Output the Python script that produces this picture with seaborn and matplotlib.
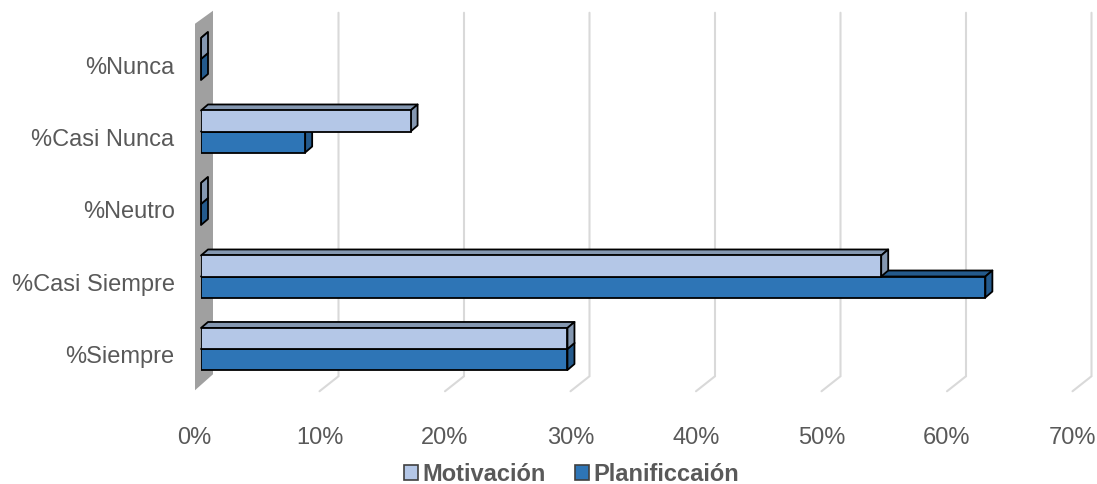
import matplotlib
matplotlib.use("Agg")
import matplotlib.pyplot as plt
from matplotlib.patches import Polygon, Patch
from matplotlib.transforms import ScaledTranslation, IdentityTransform
import pandas as pd
import seaborn as sns

# Survey results (percent of respondents)
categorias = ["%Nunca", "%Casi Nunca", "%Neutro", "%Casi Siempre", "%Siempre"]
series = ["Motivación", "Planificcaión"]
motivacion = [0.0, 16.7, 0.0, 54.2, 29.2]
planificacion = [0.0, 8.3, 0.0, 62.5, 29.2]
x_ticks = [0, 10, 20, 30, 40, 50, 60, 70]
x_tick_labels = [f"{t}%" for t in x_ticks]

front_colors = ["#b4c7e7", "#2e75b6"]
shade_colors = ["#8497b0", "#245a8c"]
text_color = "#595959"

df = pd.DataFrame({
    "categoria": categorias * 2,
    "serie": [series[0]] * len(categorias) + [series[1]] * len(categorias),
    "valor": motivacion + planificacion,
})

sns.set_style("white")
plt.rcParams["font.family"] = ["Liberation Sans", "DejaVu Sans"]

W, H, DPI = 1097, 485, 100
fig = plt.figure(figsize=(W / DPI, H / DPI), dpi=DPI)
ax = fig.add_axes([201 / W, (H - 386.25) / H, 878.5 / W, 362.5 / H])

sns.barplot(data=df, y="categoria", x="valor", hue="serie", order=categorias,
            hue_order=series, palette=front_colors, orient="h", width=0.58,
            edgecolor="black", linewidth=1.3, saturation=1, legend=False, ax=ax)

ax.set_xlim(0, 70)
ax.set_ylim(len(categorias) - 0.5, -0.5)
for s in ax.spines.values():
    s.set_visible(False)
ax.set_xlabel("")
ax.set_ylabel("")
ax.set_xticks(x_ticks)
ax.set_xticklabels(x_tick_labels)
ax.tick_params(axis="both", length=0, labelsize=17, labelcolor=text_color)
ax.tick_params(axis="x", pad=29)
ax.tick_params(axis="y", pad=19)
ax.grid(False)

# shift labels onto the front edge of the 3-D floor / wall
for lab in ax.get_xticklabels():
    lab.set_transform(lab.get_transform() + ScaledTranslation(-7 / DPI, 0, fig.dpi_scale_trans))
for lab in ax.get_yticklabels():
    lab.set_transform(lab.get_transform() + ScaledTranslation(0, -5 / DPI, fig.dpi_scale_trans))

fig.canvas.draw()
ident = IdentityTransform()
bb = ax.get_window_extent()
top, bottom = bb.y1, bb.y0


def xpix(v):
    return ax.transData.transform((v, 0))[0]


# side wall at 0%
x0 = xpix(0)
wall = Polygon([(x0 - 6, top - 1), (x0 + 12, top + 12), (x0 + 12, bottom + 11),
                (x0 - 6, bottom - 5)], closed=True, facecolor="#a0a0a0",
               edgecolor="none", transform=ident, zorder=0.4, clip_on=False)
ax.add_artist(wall)

# back-wall gridlines with their floor segments
for t in x_ticks[1:]:
    xv = xpix(t)
    ax.plot([xv + 12, xv + 12, xv - 7], [top + 10, bottom + 9, bottom - 6],
            color="#d9d9d9", lw=1.5, transform=ident, zorder=0.5,
            solid_joinstyle="miter", clip_on=False)

# depth faces (top and right side) for each bar
dx, dy = 7, 6
order = [(1, 1.0, 2.0), (0, 3.0, 4.0)]  # lower series first, upper series on top
for idx, zf, zfront in order:
    cont = ax.containers[idx]
    for rect in cont.patches:
        rect.set_zorder(zfront)
        x, y = rect.get_x(), rect.get_y()
        w, h = rect.get_width(), rect.get_height()
        (ax_l, ay_a) = ax.transData.transform((x, y))
        (ax_r, ay_b) = ax.transData.transform((x + w, y + h))
        ytop, ybot = max(ay_a, ay_b), min(ay_a, ay_b)
        topface = Polygon([(ax_l, ytop), (ax_l + dx, ytop + dy), (ax_r + dx, ytop + dy),
                           (ax_r, ytop)], closed=True, facecolor=shade_colors[idx],
                          edgecolor="black", lw=1.3, transform=ident, zorder=zf,
                          joinstyle="round", clip_on=False)
        side = Polygon([(ax_r, ytop), (ax_r + dx, ytop + dy), (ax_r + dx, ybot + dy),
                        (ax_r, ybot)], closed=True, facecolor=shade_colors[idx],
                       edgecolor="black", lw=1.3, transform=ident, zorder=zf,
                       joinstyle="round", clip_on=False)
        ax.add_artist(topface)
        ax.add_artist(side)

handles = [Patch(facecolor=c, edgecolor="#404040", lw=1.2) for c in front_colors]
leg = fig.legend(handles, series, loc="center", bbox_to_anchor=(0.521, 1 - 475 / H),
                 ncol=2, frameon=False, handlelength=0.6, handleheight=0.6,
                 handletextpad=0.2, columnspacing=1.2,
                 prop={"size": 17, "weight": "bold"})
for t in leg.get_texts():
    t.set_color(text_color)

fig.savefig("out.png", dpi=DPI)
